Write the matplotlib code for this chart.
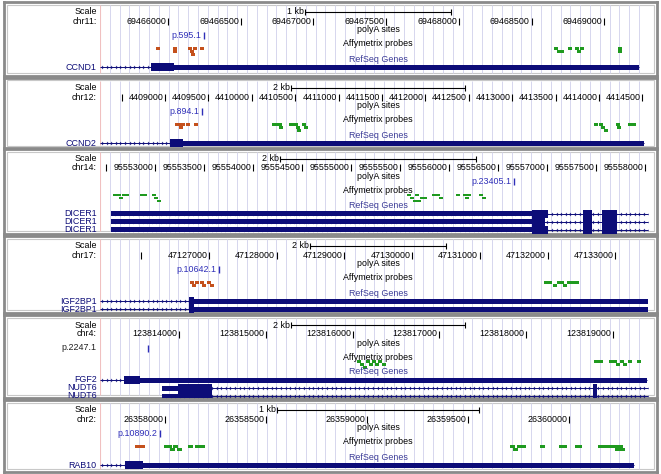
import numpy as np
import matplotlib.pyplot as plt
import matplotlib.transforms as mtransforms
from matplotlib.path import Path
from matplotlib.patches import Rectangle

plt.rcParams['font.family'] = ['Liberation Sans', 'DejaVu Sans']

W, H = 661, 474

# ---------------- panel 1 : CCND1 ----------------
p1_chrom = 'chr11:'
p1_view = [69465532, 69469301]
p1_ticks = [69466000, 69466500, 69467000, 69467500, 69468000, 69468500, 69469000]
p1_bare = []
p1_scale_kb = 1
p1_site = ['p.595.1', 69466248]
p1_orange = [69465917, 69466034, 69466034, 69466138, 69466172, 69466220, 69466151, 69466158]
p1_orange_row = [0, 0, 1, 0, 0, 0, 1, 2]
p1_green = [69468655, 69468676, 69468696, 69468751, 69468799, 69468813, 69468834, 69469095, 69469095]
p1_green_row = [0, 1, 1, 0, 0, 1, 0, 0, 1]
p1_genes = ['CCND1']
p1_strand = ['+']
p1_tx = [[69465532, 69469242]]
p1_exons = [[[69465886, 69469242]]]
p1_cds = [[69465886, 69466041]]

# ---------------- panel 2 : CCND2 ----------------
p2_chrom = 'chr12:'
p2_view = [4408251, 4414564]
p2_ticks = [4409000, 4409500, 4410000, 4410500, 4411000, 4411500, 4412000,
            4412500, 4413000, 4413500, 4414000, 4414500]
p2_bare = [4408500]
p2_scale_kb = 2
p2_site = ['p.894.1', 4409426]
p2_orange = [4409115, 4409138, 4409161, 4409184, 4409242, 4409334]
p2_orange_row = [0, 0, 1, 0, 0, 0]
p2_green = [4410233, 4410256, 4410302, 4410313, 4410428, 4410463, 4410486, 4410509,
            4410521, 4410578, 4410601, 4413942, 4414000, 4414023, 4414057, 4414196,
            4414207, 4414334, 4414380]
p2_green_row = [0, 0, 0, 1, 0, 0, 0, 1, 2, 0, 1, 0, 0, 1, 2, 0, 1, 0, 0]
p2_genes = ['CCND2']
p2_strand = ['+']
p2_tx = [[4408251, 4414516]]
p2_exons = [[[4409058, 4414516]]]
p2_cds = [[4409058, 4409207]]

# ---------------- panel 3 : DICER1 ----------------
p3_chrom = 'chr14:'
p3_view = [95552439, 95558031]
p3_ticks = [95553000, 95553500, 95554000, 95554500, 95555000, 95555500,
            95556000, 95556500, 95557000, 95557500, 95558000]
p3_bare = [95552500]
p3_scale_kb = 2
p3_site = ['p.23405.1', 95556663]
p3_orange = []
p3_orange_row = []
p3_green = [95552571, 95552612, 95552633, 95552663, 95552694, 95552847, 95552878,
            95552969, 95552990, 95553020,
            95555571, 95555602, 95555633, 95555653, 95555673, 95555704, 95555735,
            95555827, 95555867, 95555898, 95556071, 95556143, 95556163, 95556184,
            95556306, 95556337]
p3_green_row = [0, 0, 1, 0, 0, 0, 0, 0, 1, 2,
                0, 1, 2, 0, 2, 1, 1, 0, 0, 1, 0, 0, 1, 0, 0, 1]
p3_genes = ['DICER1', 'DICER1', 'DICER1']
p3_strand = ['-', '-', '-']
p3_tx = [[95552551, 95558100]] * 3
p3_exons = [[[95552551, 95557010], [95557367, 95557459], [95557561, 95557714]],
            [[95552551, 95556980], [95557367, 95557459], [95557561, 95557714]],
            [[95552551, 95557010], [95557367, 95557459], [95557561, 95557714]]]
p3_cds = [[95556847, 95558100]] * 3

# ---------------- panel 4 : IGF2BP1 ----------------
p4_chrom = 'chr17:'
p4_view = [47125390, 47133484]
p4_ticks = [47127000, 47128000, 47129000, 47130000, 47131000, 47132000, 47133000]
p4_bare = [47126000]
p4_scale_kb = 2
p4_site = ['p.10642.1', 47127148]
p4_orange = [47126719, 47126749, 47126793, 47126867, 47126897, 47126970, 47127015]
p4_orange_row = [0, 1, 0, 0, 1, 0, 1]
p4_green = [47131948, 47132007, 47132081, 47132140, 47132184, 47132229, 47132288,
            47132347, 47132406]
p4_green_row = [0, 0, 1, 0, 0, 1, 0, 0, 0]
p4_genes = ['IGF2BP1', 'IGF2BP1']
p4_strand = ['+', '+']
p4_tx = [[47125390, 47133507]] * 2
p4_exons = [[[47126705, 47133507]]] * 2
p4_cds = [[47125390, 47126778]] * 2

# ---------------- panel 5 : FGF2 / NUDT6 ----------------
p5_chrom = 'chr4:'
p5_view = [123813090, 123819403]
p5_ticks = [123814000, 123815000, 123816000, 123817000, 123818000, 123819000]
p5_bare = []
p5_scale_kb = 2
p5_site = ['p.2247.1', 123813643]
p5_orange = []
p5_orange_row = []
p5_green = [123816051, 123816085, 123816120, 123816154, 123816189, 123816223,
            123816258, 123816292, 123816339,
            123818781, 123818815, 123818838, 123818954, 123819000, 123819034,
            123819080, 123819115, 123819172, 123819276]
p5_green_row = [0, 1, 2, 0, 1, 0, 1, 0, 1,
                0, 0, 0, 0, 0, 1, 0, 1, 0, 0]
p5_genes = ['FGF2', 'NUDT6', 'NUDT6']
p5_strand = ['+', '-', '-']
p5_tx = [[123813090, 123819391], [123813804, 123819460], [123813804, 123819460]]
p5_exons = [[[123813366, 123819391]],
            [[123813804, 123814380], [123818769, 123818815]],
            [[123813804, 123814380], [123818769, 123818815]]]
p5_cds = [[123813090, 123813551], [123813988, 123819460], [123813988, 123819460]]

# ---------------- panel 6 : RAB10 ----------------
p6_chrom = 'chr2:'
p6_view = [26357678, 26360391]
p6_ticks = [26358000, 26358500, 26359000, 26359500, 26360000]
p6_bare = []
p6_scale_kb = 1
p6_site = ['p.10890.2', 26357975]
p6_orange = [26357852, 26357876]
p6_orange_row = [0, 0]
p6_green = [26357995, 26358010, 26358025, 26358040, 26358059, 26358114, 26358149,
            26358173, 26359708, 26359723, 26359742, 26359762, 26359856, 26359950,
            26359965, 26360030, 26360040, 26360143, 26360163, 26360178, 26360198,
            26360218, 26360228, 26360243, 26360252]
p6_green_row = [0, 0, 1, 0, 1, 0, 0, 0, 0, 1, 0, 0, 0, 0, 0, 0, 0, 0, 0, 0, 0,
                0, 1, 0, 1]
p6_genes = ['RAB10']
p6_strand = ['+']
p6_tx = [[26357678, 26360323]]
p6_exons = [[[26357802, 26360323]]]
p6_cds = [[26357678, 26357891]]

# frame top / bottom of each panel, in pixels
frames = [(2, 76), (78, 148), (149, 234), (236, 313), (315, 398), (400, 472)]

panels = []
for i in range(1, 7):
    g = globals()
    panels.append({k: g[f'p{i}_{k}'] for k in
                   ['chrom', 'view', 'ticks', 'bare', 'scale_kb', 'site', 'orange',
                    'orange_row', 'green', 'green_row', 'genes', 'strand', 'tx',
                    'exons', 'cds']})

NAVY = '#0c0c78'
BLUE = '#2e2eb8'
ORANGE = '#c4501c'
GREEN = '#1f9a1f'
GUIDE = '#d6d6ee'
FS = 6.4

# rows (pixel offset from frame top)
Y_SCALE, Y_CHR, Y_POLYA, Y_SITE, Y_AFFY, Y_PROBE, Y_REFSEQ, Y_GENE = 10, 19, 28, 33, 42, 45, 57, 65
GENE_STEP = 8
X0, X1 = 100, 648
CENTER = (378 - X0) / (X1 - X0)

chev_r = Path([(-1, 1), (0, 0), (-1, -1)], [Path.MOVETO, Path.LINETO, Path.LINETO])
chev_l = Path([(1, 1), (0, 0), (1, -1)], [Path.MOVETO, Path.LINETO, Path.LINETO])

fig = plt.figure(figsize=(W / 100, H / 100), dpi=100)


def box(l, t, r, b):
    return [l / W, 1 - b / H, (r - l) / W, (b - t) / H]


for p, (top, bot) in zip(panels, frames):
    hgt = bot - top
    fa = fig.add_axes(box(4, top, 657, bot))
    fa.set_xticks([])
    fa.set_yticks([])
    for s in fa.spines.values():
        s.set_color('#8a8a8a')
        s.set_linewidth(2.0)
    fa.add_patch(Rectangle((0.004, 0.035), 0.992, 0.93, transform=fa.transAxes,
                           fill=False, ec='#c8c8c8', lw=0.8))

    ax = fig.add_axes(box(X0, top, X1, bot))
    ax.set_xlim(p['view'])
    ax.set_ylim(hgt, 0)
    ax.axis('off')
    v0, v1 = p['view']
    span = v1 - v0
    bp_px = span / (X1 - X0)
    lab = mtransforms.blended_transform_factory(ax.transAxes, ax.transData)

    # guidelines at a fixed pixel spacing
    gx = v0 + np.arange(0, X1 - X0, 9.8) * bp_px
    ax.vlines(gx[1:], 3, hgt - 3, color=GUIDE, lw=0.7, zorder=0)
    ax.vlines(gx[0], 3, hgt - 3, color='#f0c0c0', lw=0.8, zorder=0)

    # scale bar
    c = v0 + CENTER * span
    half = p['scale_kb'] * 500
    ax.hlines(Y_SCALE, c - half, c + half, color='black', lw=0.8)
    ax.vlines([c - half, c + half], Y_SCALE - 3, Y_SCALE + 3, color='black', lw=0.8)
    ax.annotate(f"{p['scale_kb']} kb", (c - half, Y_SCALE), xytext=(-1, 0),
                textcoords='offset points', ha='right', va='center', fontsize=FS)
    ax.text(-0.006, Y_SCALE, 'Scale', transform=lab, ha='right', va='center', fontsize=FS)
    ax.text(-0.006, Y_CHR, p['chrom'], transform=lab, ha='right', va='center', fontsize=FS)

    # position ticks
    ax.vlines(p['ticks'] + p['bare'], Y_CHR - 3.5, Y_CHR + 3.5, color='black', lw=0.8)
    for t in p['ticks']:
        ax.annotate(str(t), (t, Y_CHR), xytext=(-1.2, 0), textcoords='offset points',
                    ha='right', va='center', fontsize=FS)

    # track titles
    for yy, name, col in [(Y_POLYA, 'polyA sites', 'black'),
                          (Y_AFFY, 'Affymetrix probes', 'black'),
                          (Y_REFSEQ, 'RefSeq Genes', '#3a3a96')]:
        ax.text(CENTER, yy, name, transform=lab, ha='center', va='center',
                fontsize=FS, color=col)

    # polyA site; label goes to the left margin when it does not fit
    name, pos = p['site']
    ax.vlines(pos, Y_SITE - 3.5, Y_SITE + 3.5, color=BLUE, lw=1.0)
    if (pos - v0) / bp_px < 52:
        ax.text(-0.006, Y_SITE, name, transform=lab, ha='right', va='center',
                fontsize=FS, color='#202020')
    else:
        ax.annotate(name, (pos, Y_SITE), xytext=(-2, 0), textcoords='offset points',
                    ha='right', va='center', fontsize=FS, color=BLUE)

    # probes
    pw = max(25, 3.8 * bp_px)
    for xs, rows, col in [(p['orange'], p['orange_row'], ORANGE),
                          (p['green'], p['green_row'], GREEN)]:
        if len(xs):
            ax.bar(xs, 2.5, width=pw, bottom=Y_PROBE + 3 * np.array(rows),
                   align='edge', color=col, lw=0)

    # genes
    for k, gname in enumerate(p['genes']):
        yy = Y_GENE + GENE_STEP * k
        ax.text(-0.006, yy, gname, transform=lab, ha='right', va='center',
                fontsize=FS, color=NAVY)
        t0, t1 = p['tx'][k]
        ax.hlines(yy, t0, t1, color=NAVY, lw=0.7)
        cx = np.arange(t0 + 3 * bp_px, t1, 4.6 * bp_px)
        ax.plot(cx, np.full(len(cx), yy), ls='none',
                marker=chev_r if p['strand'][k] == '+' else chev_l, ms=2.2,
                mew=0.5, mec=NAVY, mfc='none')
        c0, c1 = p['cds'][k]
        for e0, e1 in p['exons'][k]:
            ax.barh(yy, e1 - e0, left=e0, height=5, color=NAVY, lw=0)
            a, b = max(e0, c0), min(e1, c1)
            if b > a:
                ax.barh(yy, b - a, left=a, height=8, color=NAVY, lw=0)

fig.savefig('out.png', dpi=100)
